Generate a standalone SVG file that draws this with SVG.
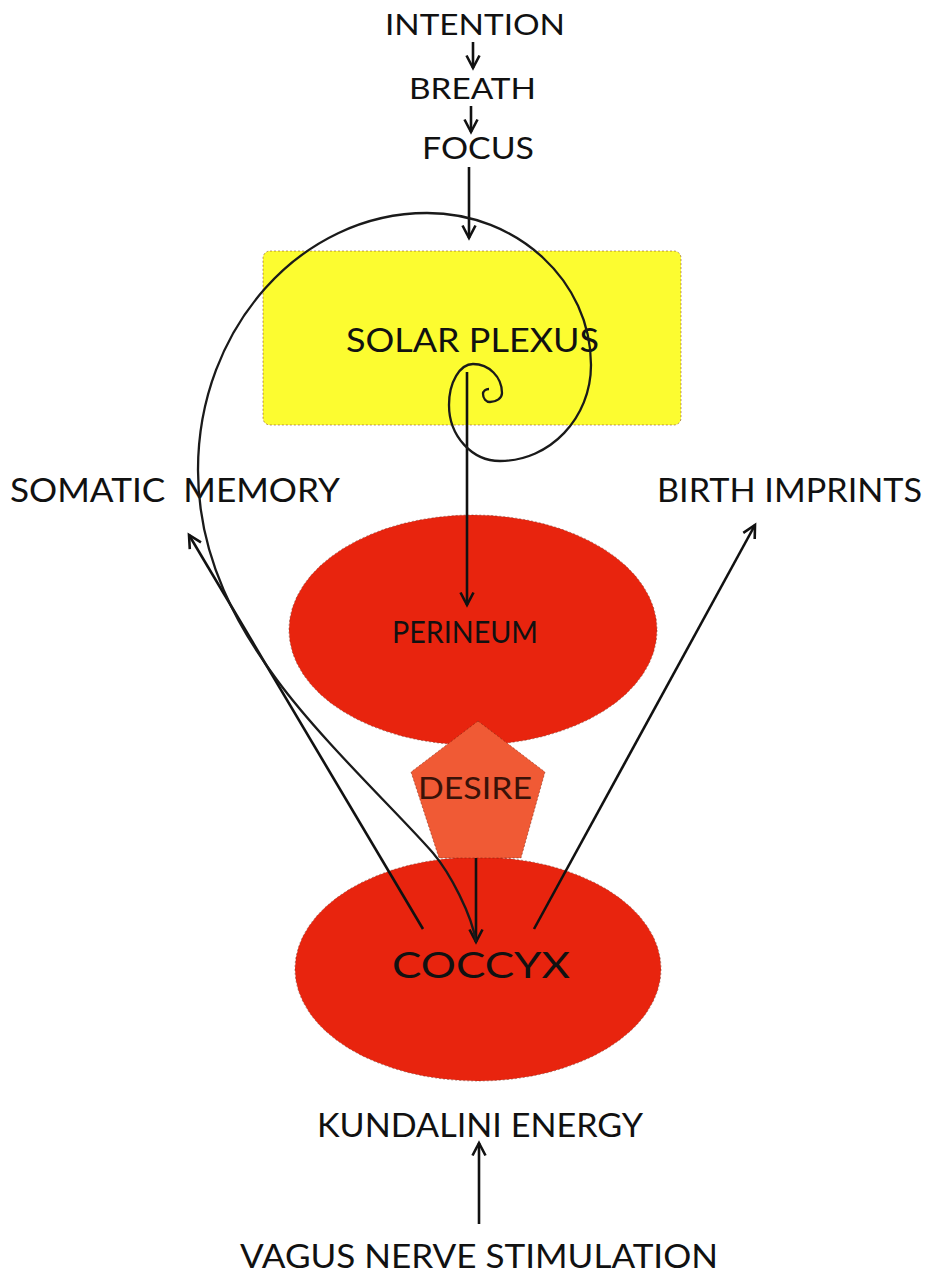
<svg xmlns="http://www.w3.org/2000/svg" width="931" height="1279" viewBox="0 0 931 1279">
<style>
.t{font-family:Lato,"Liberation Sans",sans-serif;fill:#111;}
.ln{fill:none;stroke:#111;stroke-width:2.6;}
.sp{fill:none;stroke:#1a1a1a;stroke-width:2.3;}
.shape{stroke:#6a2010;stroke-width:0.8;stroke-dasharray:2 2;stroke-opacity:0.6;}
</style>
<defs>
<marker id="ah" markerUnits="userSpaceOnUse" markerWidth="18" markerHeight="18" refX="14" refY="8" orient="auto">
<path d="M1.5,1.5 L14,8 L1.5,14.5" fill="none" stroke="#111" stroke-width="2.6"/>
</marker>
</defs>
<rect width="931" height="1279" fill="#fff"/>

<g id="solar-plexus">
<rect class="shape" x="263" y="251" width="418" height="174" rx="7" fill="#fcfc30" stroke="#c8c820"/>
<text class="t" x="346" y="352" font-size="32" textLength="253" lengthAdjust="spacingAndGlyphs">SOLAR PLEXUS</text>
</g>
<g id="perineum">
<ellipse class="shape" cx="473" cy="630" rx="184" ry="115" fill="#e8240e"/>
<text class="t" x="392" y="643" font-size="30" textLength="146" lengthAdjust="spacingAndGlyphs">PERINEUM</text>
</g>
<g id="coccyx">
<ellipse class="shape" cx="478" cy="969" rx="183" ry="112" fill="#e8240e"/>
<text class="t" x="392" y="978" font-size="36" textLength="178" lengthAdjust="spacingAndGlyphs">COCCYX</text>
</g>
<g id="desire">
<polygon class="shape" points="478,721 545,772 521,858 439,858 411,772" fill="#f05a35"/>
<text class="t" x="418" y="799" font-size="30" textLength="114" lengthAdjust="spacingAndGlyphs" style="fill:#3a1208">DESIRE</text>
</g>
<g id="intention"><text class="t" x="385" y="35" font-size="28" textLength="180" lengthAdjust="spacingAndGlyphs">INTENTION</text></g>
<g id="breath"><text class="t" x="409" y="99" font-size="28" textLength="127" lengthAdjust="spacingAndGlyphs">BREATH</text></g>
<g id="focus"><text class="t" x="422" y="159" font-size="30" textLength="112" lengthAdjust="spacingAndGlyphs">FOCUS</text></g>
<g id="somatic-memory"><text class="t" x="10" y="502" font-size="32" textLength="330" lengthAdjust="spacingAndGlyphs" xml:space="preserve">SOMATIC  MEMORY</text></g>
<g id="birth-imprints"><text class="t" x="657" y="502" font-size="32" textLength="265" lengthAdjust="spacingAndGlyphs">BIRTH IMPRINTS</text></g>
<g id="kundalini"><text class="t" x="317" y="1137" font-size="32" textLength="326" lengthAdjust="spacingAndGlyphs">KUNDALINI ENERGY</text></g>
<g id="vagus"><text class="t" x="240" y="1268" font-size="33" textLength="478" lengthAdjust="spacingAndGlyphs">VAGUS NERVE STIMULATION</text></g>

<g id="connectors">
<line class="ln" x1="473" y1="42" x2="473" y2="68" marker-end="url(#ah)"/>
<line class="ln" x1="471" y1="106" x2="471" y2="132" marker-end="url(#ah)"/>
<line class="ln" x1="469" y1="167" x2="469" y2="238" marker-end="url(#ah)"/>
<line class="ln" x1="467" y1="372" x2="467" y2="605" marker-end="url(#ah)"/>
<line class="ln" x1="476" y1="858" x2="476" y2="942" marker-end="url(#ah)"/>
<line class="ln" x1="423" y1="929" x2="189" y2="535" marker-end="url(#ah)"/>
<line class="ln" x1="534" y1="929" x2="755" y2="525" marker-end="url(#ah)"/>
<line class="ln" x1="479" y1="1224" x2="479" y2="1143" marker-end="url(#ah)"/>
<path class="sp" d="M489,389 C485.7,389 483,391.2 483,394 C483,398.4 486.1,402 490,402 C496.6,402 502,398 502,393 C502,377 489,364 473,364 C460,364 449,382 449,405 C449,436 472,461 500,461 C550,461 591,418 591,365 C591,281 517,213 427,213 C301,213 198,328 198,470 C198,560 240,630 277,680 C321,740 400,815 433,853 C450,873 472,915 476,942"/>
</g>
</svg>
